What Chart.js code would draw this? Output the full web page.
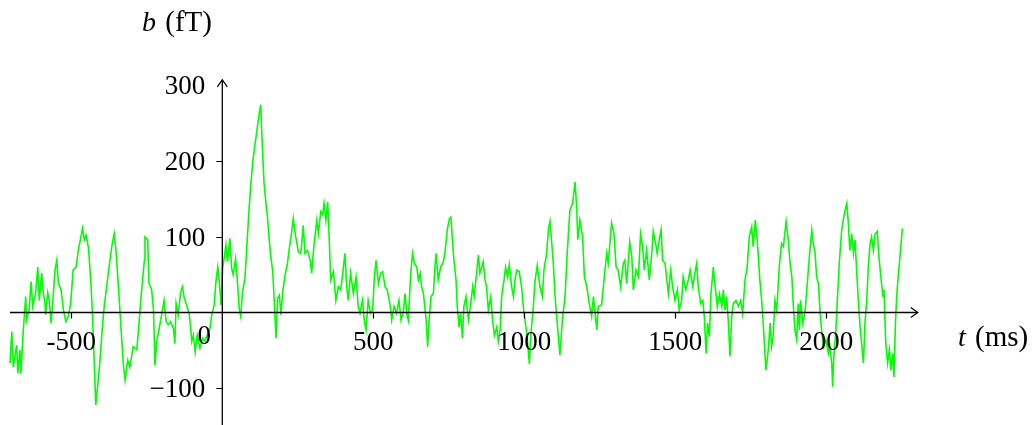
<!DOCTYPE html>
<html>
<head>
<meta charset="utf-8">
<script src="https://cdn.jsdelivr.net/npm/chart.js@4.4.1/dist/chart.umd.min.js"></script>
<style>
html,body{margin:0;padding:0;background:#fff;}
#wrap{width:1036px;height:425px;position:relative;}
canvas{display:block;}
</style>
</head>
<body>
<div id="wrap"><canvas id="c" width="1036" height="425"></canvas></div>
<script>
// time (ms)
const times = [
-703,-697,-692,-681,-677,-670,-667,-659,-651,-648,-640,-633,-628,-618,-611,-606,-598,-593,-587,-585,
-578,-573,-567,-560,-554,-548,-543,-534,-526,-518,-510,-502,-494,-484,-477,-468,-463,-457,-451,-443,
-435,-430,-424,-419,-413,-405,-397,-391,-383,-375,-366,-358,-352,-344,-335,-328,-322,-313,-306,-295,
-283,-275,-267,-258,-256,-247,-243,-234,-228,-223,-217,-209,-201,-193,-186,-179,-171,-162,-157,-153,
-146,-138,-132,-126,-118,-109,-101,-96,-90,-83,-74,-65,-57,-50,-41,-35,-27,-21,-15,-10,
-4,1,6,12,17,25,31,36,44,50,56,61,67,75,81,88,95,101,108,114,
119,127,132,138,145,149,155,160,167,171,178,183,189,194,200,208,215,222,230,235,
243,252,260,268,274,282,291,296,304,313,318,326,332,337,343,349,353,359,368,376,
384,392,399,406,412,417,425,434,443,450,456,464,470,476,483,491,498,503,509,517,
524,531,539,546,555,561,569,577,585,592,600,605,611,616,624,630,636,644,649,655,
660,666,675,680,685,691,699,704,708,715,723,732,737,745,752,757,763,767,774,778,
784,789,795,800,807,815,820,829,834,842,848,853,859,864,870,875,881,889,895,901,
909,914,920,925,933,938,945,950,958,964,969,975,983,991,999,1008,1017,1022,1030,1035,
1043,1052,1060,1065,1074,1080,1085,1091,1096,1102,1107,1118,1127,1135,1142,1151,1160,1168,1174,1177,
1184,1193,1199,1207,1215,1223,1229,1240,1245,1256,1264,1273,1278,1289,1297,1304,1311,1319,1328,1333,
1339,1349,1356,1361,1370,1378,1385,1392,1397,1405,1414,1422,1427,1435,1440,1447,1453,1458,1466,1471,
1477,1485,1491,1499,1507,1513,1521,1526,1535,1543,1549,1558,1565,1571,1576,1584,1591,1596,1602,1607,
1613,1618,1626,1631,1639,1646,1654,1659,1665,1670,1676,1681,1687,1692,1701,1709,1717,1723,1731,1738,
1745,1753,1758,1765,1771,1775,1780,1786,1791,1800,1808,1814,1819,1824,1830,1836,1844,1852,1858,1867,
1874,1880,1886,1891,1896,1902,1907,1911,1915,1922,1930,1937,1944,1952,1957,1963,1968,1974,1979,1985,
1992,1999,2007,2012,2018,2021,2025,2032,2036,2043,2051,2056,2062,2068,2073,2078,2084,2090,2095,2101,
2106,2112,2117,2123,2128,2134,2139,2145,2150,2156,2162,2169,2174,2183,2188,2191,2197,2203,2209,2214,
2220,2224,2229,2233,2238,2244,2252
];
// b (fT)
const values = [
-67,-25,-72,-43,-80,-49,-80,-23,21,-10,3,41,8,26,60,16,52,27,12,-3,
26,16,-14,21,56,69,39,30,3,-12,-5,12,56,60,82,100,111,96,102,85,
39,-1,-67,-122,-98,-63,-19,8,34,60,87,104,82,34,-23,-67,-89,-63,-72,-45,
-49,-10,30,69,100,96,39,30,5,-70,-38,-21,-3,16,-12,-16,-12,-21,-41,12,
-3,27,34,19,10,-3,-38,-30,-52,-30,-47,-34,-38,-30,-21,-3,10,41,60,41,
10,58,71,89,67,98,58,50,71,41,5,-5,27,45,85,133,172,199,221,238,
254,274,225,172,142,129,98,76,54,23,-34,19,23,-3,27,50,63,85,107,124,
100,80,78,115,78,82,69,52,91,122,104,133,129,144,122,146,109,43,54,16,
34,30,52,78,34,16,52,25,47,8,-1,16,-10,-23,16,-1,3,43,69,38,
52,54,34,30,12,-10,8,-1,16,-10,3,25,-1,-10,52,78,65,60,43,52,
34,25,-10,-45,-10,21,25,60,78,43,60,67,78,109,124,126,91,69,43,8,
-19,-1,-34,8,21,-10,3,34,21,52,76,52,60,67,43,34,3,21,-10,-30,
-19,-38,-23,21,43,60,47,63,34,21,43,56,54,34,-1,-27,-68,-27,8,40,
62,34,21,56,78,110,120,91,65,21,-5,-56,-5,21,78,135,144,172,135,96,
122,100,47,34,12,-5,21,-23,8,10,43,78,65,118,104,60,56,34,65,69,
38,93,74,30,56,47,104,87,56,82,43,78,107,91,78,96,109,69,65,47,
25,56,34,16,30,3,16,47,30,43,56,34,52,65,34,12,16,-5,-54,-14,
-32,25,60,38,8,25,8,30,3,21,-14,-58,-5,12,16,8,16,-1,43,60,
100,113,87,122,96,74,43,16,-14,-76,-49,-14,-45,-32,16,3,60,91,87,120,
96,65,47,8,-23,-36,12,-23,16,-14,3,38,74,109,91,78,47,38,3,-27,
-45,-36,-54,-45,-67,-98,-58,-23,12,65,109,122,135,144,118,82,104,78,96,52,
16,-19,-41,-67,-14,16,60,91,100,82,104,107,74,38,21,30,-41,-67,-49,-76,
-54,-85,-14,21,47,74,111
];
const xTicks = [-500, 0, 500, 1000, 1500, 2000];
const xTickLabels = ['-500', '0', '500', '1000', '1500', '2000'];
const yTicks = [-100, 100, 200, 300];
const yTickLabels = ['\u2212100', '100', '200', '300'];
const xTitle = ['t', ' (ms)'];
const yTitle = ['b', ' (fT)'];

const FONT = '"Liberation Serif", "DejaVu Serif", serif';

const axesPlugin = {
  id: 'mathAxes',
  afterDatasetsDraw(chart) {
    const ctx = chart.ctx;
    const xs = chart.scales.x, ys = chart.scales.y;
    const ox = xs.getPixelForValue(0), oy = ys.getPixelForValue(0);
    const xL = xs.getPixelForValue(-703), xR = xs.getPixelForValue(2303);
    const yT = ys.getPixelForValue(307), yB = ys.getPixelForValue(-150);
    ctx.save();
    ctx.strokeStyle = '#000';
    ctx.lineWidth = 1.3;
    ctx.beginPath();
    ctx.moveTo(xL, oy); ctx.lineTo(xR, oy);
    ctx.moveTo(ox, yB); ctx.lineTo(ox, yT);
    ctx.stroke();
    // arrow heads
    ctx.lineWidth = 1.2;
    ctx.beginPath();
    ctx.moveTo(xR - 7, oy - 5); ctx.lineTo(xR, oy); ctx.lineTo(xR - 7, oy + 5);
    ctx.moveTo(ox - 5, yT + 7); ctx.lineTo(ox, yT); ctx.lineTo(ox + 5, yT + 7);
    ctx.stroke();
    // ticks
    ctx.lineWidth = 1.2;
    ctx.beginPath();
    xTicks.forEach(v => {
      if (v === 0) return;
      const p = Math.round(xs.getPixelForValue(v)) + 0.5;
      ctx.moveTo(p, oy); ctx.lineTo(p, oy + 6);
    });
    yTicks.forEach(v => {
      if (v === 300) return;
      const p = Math.round(ys.getPixelForValue(v)) + 0.5;
      ctx.moveTo(ox, p); ctx.lineTo(ox - 6, p);
    });
    ctx.stroke();
    // labels
    ctx.fillStyle = '#000';
    ctx.font = '27px ' + FONT;
    ctx.textBaseline = 'alphabetic';
    xTicks.forEach((v, i) => {
      ctx.textAlign = 'center';
      if (v === 0) {
        ctx.fillText(xTickLabels[i], ox - 18, oy + 31);
      } else {
        ctx.fillText(xTickLabels[i], xs.getPixelForValue(v), oy + 37);
      }
    });
    yTicks.forEach((v, i) => {
      ctx.textAlign = 'right';
      ctx.fillText(yTickLabels[i], ox - 17, ys.getPixelForValue(v) + 9);
    });
    // titles
    ctx.textAlign = 'left';
    const drawTitle = (parts, x, y) => {
      ctx.font = 'italic 28px ' + FONT;
      ctx.fillText(parts[0], x, y);
      const w = ctx.measureText(parts[0]).width;
      ctx.font = '29px ' + FONT;
      ctx.fillText(parts[1], x + w + 2, y);
    };
    drawTitle(yTitle, 142, 31);
    drawTitle(xTitle, 958, oy + 33);
    ctx.restore();
  }
};

new Chart(document.getElementById('c'), {
  type: 'line',
  data: {
    datasets: [{
      data: times.map((t, i) => ({ x: t, y: values[i] })),
      borderColor: '#00ff00',
      borderWidth: 1.6,
      pointRadius: 0,
      tension: 0,
      fill: false
    }]
  },
  options: {
    responsive: false,
    animation: false,
    devicePixelRatio: 1,
    layout: { padding: 0 },
    plugins: { legend: { display: false }, tooltip: { enabled: false } },
    scales: {
      x: { type: 'linear', min: -736.1, max: 2694.4, display: false },
      y: { type: 'linear', min: -148.4, max: 412.3, display: false }
    }
  },
  plugins: [axesPlugin]
});
</script>
</body>
</html>
